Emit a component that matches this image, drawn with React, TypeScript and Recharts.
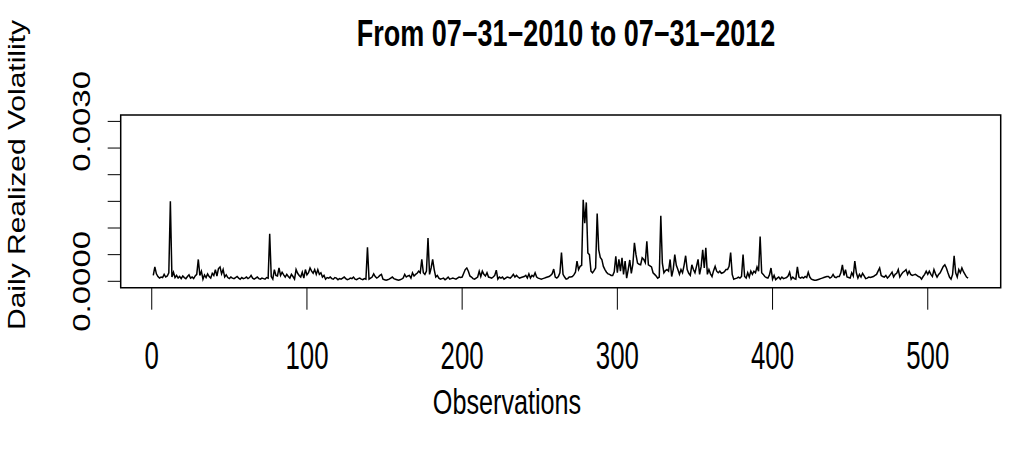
import React from "react";
import { LineChart, Line, XAxis, YAxis, ReferenceArea } from "recharts";

// daily realized volatility, observations 1..526, in units of 1e-4
const volE4 = [
  1.1, 2.7, 1.4, 0.9, 0.6, 0.8, 0.7, 1.3, 0.8, 1.0,
  1.6, 15.0, 0.8, 1.7, 0.7, 1.1, 0.6, 0.9, 0.5, 1.0,
  0.7, 0.5, 0.9, 1.2, 0.6, 0.8, 0.5, 1.0, 1.3, 4.1,
  1.1, 1.9, 0.4, 1.2, 0.7, 1.4, 0.9, 0.6, 1.5, 1.1,
  2.2, 1.0, 2.4, 2.7, 1.4, 2.2, 0.8, 1.2, 0.7, 0.5,
  0.8, 0.6, 0.5, 0.7, 0.9, 0.6, 0.4, 0.7, 0.5, 0.6,
  0.8, 0.5, 0.7, 1.1, 0.6, 0.4, 0.6, 0.8, 0.5, 0.4,
  0.6, 0.5, 0.4, 0.7, 0.6, 8.9, 0.9, 0.4, 2.2, 1.1,
  1.0, 2.5, 1.1, 1.7, 1.2, 0.8, 1.3, 0.9, 0.6, 1.3,
  0.9, 0.4, 2.2, 1.5, 1.1, 0.8, 1.7, 0.6, 2.2, 1.2,
  1.6, 2.5, 1.9, 1.5, 2.2, 1.3, 2.2, 1.3, 1.6, 0.8,
  1.1, 0.4, 0.7, 0.6, 0.8, 0.5, 0.4, 0.7, 0.6, 0.3,
  0.5, 0.4, 0.6, 0.8, 0.5, 0.3, 0.4, 0.6, 0.5, 0.8,
  0.4, 0.3, 0.5, 0.6, 0.4, 0.3, 0.5, 0.4, 6.4, 0.4,
  0.6, 0.8, 1.4, 0.9, 0.6, 0.8, 1.1, 1.3, 0.4, 0.3,
  0.2, 0.3, 0.4, 0.6, 0.8, 0.5, 0.4, 0.3, 0.2, 0.3,
  0.4, 0.6, 1.3, 0.8, 1.0, 1.1, 0.6, 1.6, 1.0, 1.3,
  1.5, 1.9, 1.6, 4.1, 1.6, 1.3, 1.9, 8.1, 1.3, 2.5,
  4.1, 2.2, 0.8, 1.1, 0.6, 0.4, 0.5, 0.6, 0.3, 0.5,
  0.8, 0.4, 0.5, 0.6, 0.5, 0.4, 0.6, 0.8, 0.7, 0.8,
  1.5, 2.2, 2.5, 1.9, 1.0, 0.8, 0.5, 0.4, 0.6, 0.8,
  1.9, 0.9, 1.9, 1.3, 1.0, 1.6, 0.8, 0.7, 0.6, 0.8,
  1.1, 2.1, 0.4, 0.8, 0.6, 0.8, 0.4, 0.6, 0.8, 0.7,
  0.6, 0.9, 1.3, 0.8, 1.1, 0.8, 0.6, 0.7, 0.8, 0.9,
  1.1, 0.6, 1.4, 0.6, 1.1, 0.9, 1.6, 0.8, 0.6, 0.5,
  0.4, 0.5, 0.6, 0.7, 0.8, 0.9, 1.1, 1.4, 2.3, 0.8,
  0.6, 0.9, 1.6, 5.4, 1.3, 0.8, 0.4, 0.5, 0.8, 0.8,
  0.9, 1.2, 1.7, 3.8, 2.2, 2.8, 3.0, 15.3, 10.9, 14.8,
  5.3, 5.0, 1.9, 1.6, 2.0, 2.5, 12.7, 5.9, 4.5, 4.1,
  2.8, 2.2, 1.7, 1.4, 1.3, 1.1, 1.1, 1.8, 4.7, 1.6,
  4.1, 1.9, 4.4, 1.3, 3.8, 0.6, 2.2, 4.0, 1.5, 3.2,
  7.2, 5.0, 3.4, 3.2, 3.1, 4.4, 4.1, 3.5, 7.5, 3.1,
  2.9, 2.7, 1.6, 1.3, 1.0, 0.6, 0.8, 12.3, 3.4, 1.6,
  2.0, 2.2, 1.9, 4.1, 0.9, 2.2, 5.0, 3.0, 2.2, 1.3,
  2.2, 1.6, 3.0, 4.8, 2.2, 1.5, 1.1, 3.1, 2.2, 1.6,
  2.8, 4.1, 1.3, 2.8, 5.9, 2.5, 6.3, 1.3, 2.2, 1.4,
  0.9, 2.0, 2.8, 1.9, 1.6, 1.9, 1.5, 1.6, 1.8, 2.2,
  2.2, 2.8, 5.4, 1.3, 0.4, 0.5, 0.6, 0.8, 0.6, 0.9,
  5.0, 0.9, 0.6, 1.6, 0.8, 1.9, 1.3, 1.9, 1.6, 2.7,
  1.9, 8.4, 1.6, 1.3, 0.9, 0.7, 0.6, 1.2, 2.5, 0.4,
  1.1, 0.3, 0.6, 0.8, 0.4, 0.8, 0.5, 0.6, 0.7, 1.0,
  1.7, 0.4, 0.8, 0.5, 0.4, 2.7, 0.8, 0.6, 0.8, 0.6,
  0.9, 0.7, 1.7, 0.8, 0.4, 0.3, 0.2, 0.2, 0.3, 0.4,
  0.5, 0.6, 0.7, 0.8, 0.9, 0.9, 0.6, 0.8, 1.3, 0.8,
  0.7, 0.9, 0.9, 1.6, 3.1, 1.1, 2.2, 0.8, 0.7, 0.6,
  1.6, 1.0, 3.8, 1.6, 0.6, 1.3, 0.8, 1.5, 1.0, 0.5,
  0.6, 0.8, 0.7, 0.8, 0.9, 1.1, 1.3, 1.9, 2.5, 1.1,
  0.9, 0.8, 1.1, 0.6, 0.9, 1.3, 1.7, 0.8, 1.3, 1.5,
  2.2, 0.8, 1.3, 1.7, 1.9, 2.2, 1.3, 1.9, 1.3, 1.1,
  1.2, 1.3, 1.1, 0.9, 0.8, 0.4, 0.9, 1.3, 1.9, 1.3,
  1.9, 1.3, 0.9, 2.2, 1.4, 0.8, 1.3, 1.6, 2.2, 2.8,
  3.1, 2.5, 1.6, 0.8, 0.4, 1.3, 4.8, 1.6, 0.8, 2.2,
  1.6, 2.5, 1.8, 1.3, 0.8, 0.6,
];

const xTicks = [0, 100, 200, 300, 400, 500];
const yTicks = [0, 0.0005, 0.001, 0.0015, 0.002, 0.0025, 0.003];
const yLabelled = [0, 0.003];

const data = volE4.map((v, i) => ({ obs: i + 1, vol: v / 10000 }));

const FONT = "'Liberation Sans', Arial, Helvetica, sans-serif";
const SX = 0.75; // picture is squeezed horizontally

const XTick = (props: any) => {
  const { x, payload } = props;
  return (
    <text
      transform={`translate(${x},369) scale(0.68,1)`}
      textAnchor="middle"
      fontFamily={FONT}
      fontSize={38}
      fill="#000"
    >
      {payload.value}
    </text>
  );
};

const YTick = (props: any) => {
  const { y, payload } = props;
  if (!yLabelled.includes(payload.value)) return <g />;
  return (
    <text
      transform={`translate(90,${y}) scale(0.72,1) rotate(-90)`}
      textAnchor="middle"
      fontFamily={FONT}
      fontSize={33}
      fill="#000"
    >
      {payload.value.toFixed(4)}
    </text>
  );
};

export default function App() {
  return (
    <div style={{ position: "absolute", left: 0, top: 0, width: 1010, height: 462, background: "#fff" }}>
      <LineChart
        width={1010}
        height={462}
        data={data}
        margin={{ top: 115, right: 9.3, bottom: 114.3, left: 60.7 }}
      >
        <XAxis
          dataKey="obs"
          type="number"
          domain={[-20, 547]}
          ticks={xTicks}
          allowDataOverflow
          height={60}
          axisLine={false}
          tickSize={22}
          tickLine={{ stroke: "#000", strokeWidth: 1 }}
          tick={<XTick />}
        />
        <YAxis
          type="number"
          domain={[-0.00012, 0.00312]}
          ticks={yTicks}
          allowDataOverflow
          width={60}
          axisLine={false}
          tickSize={13}
          tickLine={{ stroke: "#000", strokeWidth: 1 }}
          tick={<YTick />}
        />
        <ReferenceArea
          x1={-20}
          x2={547}
          y1={-0.00012}
          y2={0.00312}
          fill="none"
          fillOpacity={0}
          stroke="#000"
          strokeWidth={1.5}
          ifOverflow="visible"
        />
        <Line
          type="linear"
          dataKey="vol"
          stroke="#000"
          strokeWidth={1.5}
          dot={false}
          isAnimationActive={false}
        />
      </LineChart>
      <svg
        width={1010}
        height={462}
        style={{ position: "absolute", left: 0, top: 0, pointerEvents: "none" }}
      >
        <text
          transform={`translate(566,46) scale(${SX},1)`}
          textAnchor="middle"
          fontFamily={FONT}
          fontSize={36}
          fontWeight="bold"
        >
          From 07−31−2010 to 07−31−2012
        </text>
        <text
          transform={`translate(507,414) scale(0.72,1)`}
          textAnchor="middle"
          fontFamily={FONT}
          fontSize={35}
        >
          Observations
        </text>
        <text
          transform={`translate(25,175) scale(0.8,1) rotate(-90)`}
          textAnchor="middle"
          fontFamily={FONT}
          fontSize={30}
        >
          Daily Realized Volatility
        </text>
      </svg>
    </div>
  );
}
